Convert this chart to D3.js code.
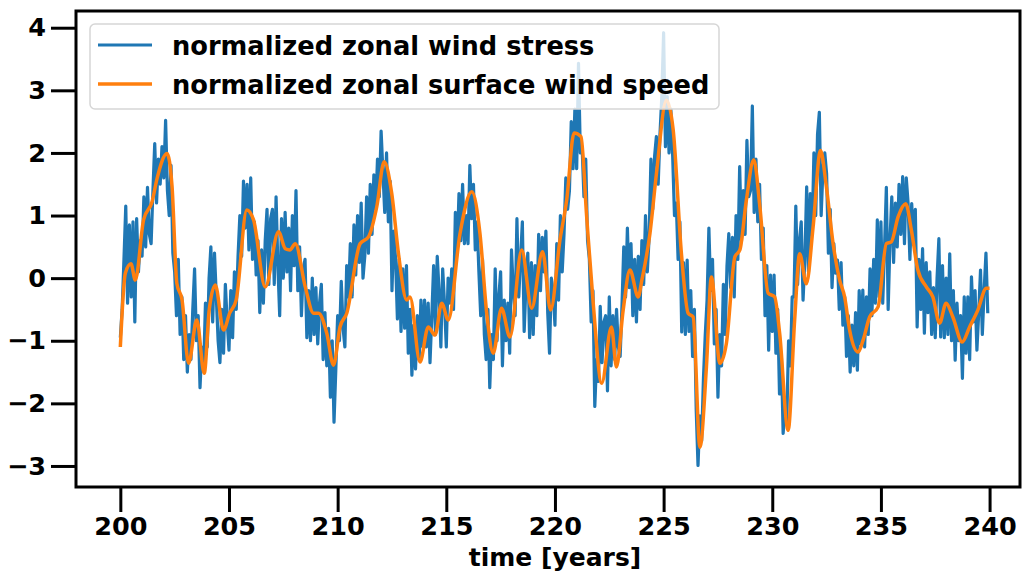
<!DOCTYPE html>
<html>
<head>
<meta charset="utf-8">
<script src="https://cdn.jsdelivr.net/npm/d3@7"></script>
<style>
  body { margin: 0; background: #fff; }
  svg { display: block; font-family: 'DejaVu Sans', sans-serif; }
</style>
</head>
<body>
<div id="chart"></div>
<script>
// monthly wind stress from year 200, one row per year
const stressStart = 200;
const stressPerYear = 12;
const windStress = [
  -0.95, -0.5, 0.3, 1.15, -0.4, 0.85, -0.3, 0.9, -0.7, 0.95, 0.1, 0.6,
  0.35, 1.3, 0.5, 1.45, 0.7, 0.55, 1.4, 2.15, 1.2, 1.9, 1.5, 2.1,
  1.6, 2.52, 1.4, 1.0, 1.8, 0.4, 0.1, -0.6, 0.3, -0.9, -0.3, -1.3,
  -0.6, -1.5, -0.9, -1.3, -0.5, 0.15, -1.0, -0.6, -1.75, -1.1, -1.45, -0.4,
  -1.1, 0.0, 0.5, -0.7, 0.4, -0.3, -1.0, -1.35, -0.5, -1.2, -0.1, -0.7,
  -1.15, -0.2, -0.95, 0.1, -0.5, 0.35, 1.0, 0.35, 1.55, 0.8, 1.5, 0.45,
  1.6, 0.3, 0.9, 0.05, 0.6, -0.55, 0.45, -0.4, 0.6, 1.1, -0.1, 0.95,
  1.1, -0.1, 1.3, 0.2, -0.6, 0.95, 0.0, 1.05, 0.1, 0.8, -0.2, 1.0,
  0.2, 1.4, -0.2, 0.5, -0.6, 0.15, 0.3, -0.95, -0.2, -1.0, 0.0, -0.9,
  -0.15, -1.05, -0.4, -0.1, -1.3, -0.55, -1.4, -0.8, -1.9, -1.0, -2.3, -1.45,
  -0.6, -1.0, -0.05, -0.8, -1.1, 0.2, -0.3, 0.55, -0.3, 0.85, 0.05, 1.0,
  0.25, 1.2, 0.0, 0.35, 1.3, 0.4, 1.5, 0.7, 1.65, 1.1, 1.9, 1.3,
  2.35, 1.7, 1.05, 2.0, 0.9, 1.55, -0.2, 0.75, 0.3, -0.65, 0.3, -0.85,
  0.15, -0.8, 0.2, -1.2, -0.5, -1.55, -0.75, -1.45, -0.6, -1.3, -0.35, -1.1,
  -0.35, -1.1, -0.4, -1.35, -0.6, 0.2, -0.9, 0.35, -0.2, -1.1, 0.15, -0.4,
  -1.1, 0.0, -0.4, 0.15, -0.5, 1.05, 0.4, 1.35, 0.6, 1.5, 0.55, 1.0,
  0.55, 1.8, 0.95, 1.5, 0.45, 0.9, 0.1, -0.6, 0.3, -0.9, -1.3, -0.5,
  -1.75, -0.9, -1.3, 0.15, -1.0, -0.3, 0.1, -1.4, -0.35, -1.0, -0.4, -1.2,
  0.45, -0.2, -0.6, 0.95, -0.3, 0.3, 0.9, -0.85, -0.1, 0.4, -0.95, 0.25,
  -0.9, 0.2, -0.6, 0.7, -0.2, 0.65, 0.1, 0.75, -0.55, -1.2, 0.0, -0.2,
  -0.75, 0.55, -0.35, 1.0, 0.1, 0.7, 1.6, 1.1, 1.4, 2.5, 1.75, 2.7,
  1.75, 3.43, 2.0, 2.1, 1.3, 1.9, 0.6, 0.3, -0.7, -0.2, -2.05, -1.3,
  -1.65, -0.45, -1.35, -0.7, -0.6, -1.8, -0.3, -1.4, -0.6, -1.3, -0.5, -1.1,
  -1.25, -0.45, 0.5, -0.3, 0.8, -0.15, 0.55, -0.6, 0.3, -0.7, 0.35, -0.5,
  0.6, -0.1, 1.0, 0.1, 0.65, 1.9, 1.1, 1.94, 2.26, 1.5, 2.3, 2.9,
  3.92, 2.1, 2.9, 2.0, 2.7, 1.95, 1.0, 1.2, 0.3, 0.9, -0.86, 0.25,
  -0.9, 0.29, -0.85, -0.2, -1.25, -0.5, -2.1, -2.99, -2.2, -2.6, -1.6, -0.9,
  -0.35, 0.8, -0.2, 0.3, -1.05, -0.5, -1.9, -0.9, -1.4, -0.1, -0.9, 0.2,
  0.71, -0.15, 0.65, -0.3, 1.0, 0.3, 1.78, 0.6, 1.4, 0.7, 2.2, 1.3,
  1.4, 2.75, 1.05, 1.9, 0.9, 1.5, 0.3, 0.8, -0.6, 0.2, -1.15, 0.05,
  -0.85, 0.05, -1.2, -0.5, -1.85, -1.2, -2.48, -2.1, -2.3, -1.0, -1.4, -0.3,
  -0.3, 1.15, -0.1, 0.6, 0.9, -0.35, 0.3, 1.46, 0.1, 1.35, 0.7, 2.0,
  1.0, 2.3, 2.65, 1.0, 1.75, 2.0, 1.67, 0.4, 1.1, -0.15, 0.55, 0.08,
  0.29, -0.5, 0.25, -0.75, -0.3, -1.25, -0.6, -1.5, -0.75, -1.4, -0.55, -1.47,
  -0.2, -1.05, -0.19, -1.1, -0.3, -0.9, 0.15, -0.6, 0.3, -0.4, 0.93, -0.3,
  0.9, -0.4, 0.5, 1.45, -0.5, 0.6, 1.3, 0.25, 1.2, 0.5, 1.5, 0.7,
  1.62, 0.55, 1.6, 1.2, 0.3, 1.19, 0.6, 1.1, -0.78, 0.3, -0.5, 0.47,
  -0.88, 0.25, -0.55, 0.1, -0.9, -0.15, -0.95, 0.0, 0.63, -0.94, 0.2, -0.95,
  0.0, -0.9, 0.39, -1.0, -0.2, -1.31, -0.4, -1.0, -0.6, -1.6, -0.3, -1.2,
  -0.3, -1.3, 0.02, -0.7, -0.2, -1.15, -0.55, 0.13, -0.9, -0.2, 0.4, -0.56,
];

const speedTime = [
  200.0, 200.23, 200.49, 200.69, 201.07, 201.46, 201.69, 202.15, 202.38, 202.6,
  202.84, 203.14, 203.52, 203.86, 204.09, 204.37, 204.75, 205.03, 205.33, 205.82,
  206.13, 206.67, 207.28, 207.59, 207.8, 208.05, 208.51, 208.89, 209.12, 209.5,
  209.81, 210.11, 210.42, 211.03, 211.42, 211.8, 212.14, 212.49, 212.8, 213.18,
  213.33, 213.79, 214.17, 214.48, 214.79, 215.09, 215.63, 216.17, 216.55, 216.86,
  217.16, 217.54, 217.93, 218.47, 218.93, 219.43, 219.8, 220.23, 220.54, 220.88,
  221.2, 221.46, 221.76, 222.15, 222.6, 222.83, 223.14, 223.45, 223.83, 224.0,
  224.37, 224.67, 225.13, 225.44, 225.82, 226.13, 226.36, 226.67, 226.97, 227.2,
  227.59, 227.89, 228.28, 228.51, 228.81, 229.15, 229.43, 229.81, 230.11, 230.34,
  230.73, 231.03, 231.26, 231.57, 231.88, 232.22, 232.49, 232.8, 233.1, 233.33,
  233.56, 233.95, 234.18, 234.48, 234.87, 235.25, 235.48, 235.79, 236.14, 236.4,
  236.7, 237.09, 237.39, 237.7, 238.0, 238.31, 238.74, 239.08, 239.46, 239.85,
  240.0,
];
const windSpeed = [
  -1.10, 0.08, 0.23, -0.03, 0.93, 1.22, 1.59, 1.99, 1.46, -0.08,
  -0.35, -1.36, -0.67, -1.52, -0.51, -0.11, -0.83, -0.56, -0.35, 1.09,
  0.93, -0.14, 0.74, 0.47, 0.45, 0.55, -0.14, -0.56, -0.56, -0.88,
  -1.39, -0.78, -0.56, 0.55, 0.66, 1.14, 1.86, 1.35, 0.39, -0.35,
  -0.30, -1.34, -0.78, -0.91, -0.40, -0.67, 0.71, 1.38, 0.71, -0.56,
  -1.20, -0.48, -0.94, 0.45, -0.48, 0.42, -0.51, 0.61, 1.25, 2.32,
  2.26, 0.98, -0.40, -1.68, -0.78, -1.42, -0.51, 0.13, -0.30, -0.03,
  0.71, 1.67, 2.84, 2.37, 0.39, -0.56, -0.62, -2.70, -1.42, 0.02,
  -1.36, -1.04, 0.34, 0.45, 1.25, 1.89, 1.14, -0.24, -0.30, -0.88,
  -2.43, -0.67, 0.39, -0.09, 0.82, 2.04, 1.46, 0.55, -0.03, -0.30,
  -0.83, -1.18, -0.99, -0.62, -0.46, 0.55, 0.58, 0.98, 1.19, 0.77,
  0.13, -0.14, -0.30, -0.72, -0.40, -0.62, -1.02, -0.78, -0.51, -0.16,
  -0.16,
];

const yTicks = [-3, -2, -1, 0, 1, 2, 3, 4];
const xTicks = [200, 205, 210, 215, 220, 225, 230, 235, 240];
const legendLabels = [
  'normalized zonal wind stress',
  'normalized zonal surface wind speed',
];

const width = 1024;
const height = 573;
const margin = {top: 11, right: 4, bottom: 86, left: 76};
const colors = ['#1f77b4', '#ff7f0e'];

function draw() {
  const svg = d3.select('#chart').append('svg')
      .attr('width', width)
      .attr('height', height);

  const x = d3.scaleLinear()
      .domain([197.96, 241.4])
      .range([margin.left, width - margin.right]);
  const y = d3.scaleLinear()
      .domain([-3.336, 4.267])
      .range([height - margin.bottom, margin.top]);

  svg.append('clipPath').attr('id', 'plot-area')
      .append('rect')
      .attr('x', margin.left).attr('y', margin.top)
      .attr('width', width - margin.left - margin.right)
      .attr('height', height - margin.top - margin.bottom);

  const stress = windStress.map((v, i) => [stressStart + i / stressPerYear, v]);
  const speed = speedTime.map((t, i) => [t, windSpeed[i]]);

  const line = d3.line()
      .x((d) => x(d[0]))
      .y((d) => y(d[1]));

  const plot = svg.append('g').attr('clip-path', 'url(#plot-area)');
  plot.append('path')
      .datum(stress)
      .attr('fill', 'none')
      .attr('stroke', colors[0])
      .attr('stroke-width', 3.2)
      .attr('stroke-linejoin', 'round')
      .attr('d', line);
  plot.append('path')
      .datum(speed)
      .attr('fill', 'none')
      .attr('stroke', colors[1])
      .attr('stroke-width', 3.5)
      .attr('stroke-linejoin', 'round')
      .attr('d', line.curve(d3.curveMonotoneX));

  // axes: long thick ticks, bold labels
  const styleAxis = (g) => {
    g.select('.domain').remove();
    g.selectAll('.tick line').attr('stroke', '#000').attr('stroke-width', 3);
    g.selectAll('.tick text')
        .attr('fill', '#000')
        .attr('font-size', 25.5)
        .attr('font-weight', 'bold')
        .attr('font-family', 'DejaVu Sans');
  };
  svg.append('g')
      .attr('transform', `translate(${margin.left},0)`)
      .call(d3.axisLeft(y).tickValues(yTicks).tickSize(25).tickPadding(5)
          .tickFormat(d3.format('d')))
      .call(styleAxis);
  svg.append('g')
      .attr('transform', `translate(0,${height - margin.bottom})`)
      .call(d3.axisBottom(x).tickValues(xTicks).tickSize(25).tickPadding(5)
          .tickFormat(d3.format('d')))
      .call(styleAxis);

  // the source axes run on past the right edge, so the label sits off centre
  svg.append('text')
      .attr('x', 555)
      .attr('y', 566)
      .attr('text-anchor', 'middle')
      .attr('font-size', 25)
      .attr('font-weight', 'bold')
      .text('time [years]');

  // spines on top of the lines
  svg.append('rect')
      .attr('x', margin.left).attr('y', margin.top)
      .attr('width', width - margin.left - margin.right)
      .attr('height', height - margin.top - margin.bottom)
      .attr('fill', 'none')
      .attr('stroke', '#000')
      .attr('stroke-width', 3);

  // legend, semi transparent frame like matplotlib
  const legend = svg.append('g');
  legend.append('rect')
      .attr('x', 90).attr('y', 24)
      .attr('width', 629).attr('height', 85)
      .attr('rx', 5)
      .attr('fill', '#fff').attr('fill-opacity', 0.8)
      .attr('stroke', '#d6d6d6').attr('stroke-width', 1.5);
  legendLabels.forEach((label, i) => {
    const cy = 45 + i * 39;
    legend.append('line')
        .attr('x1', 98).attr('x2', 152)
        .attr('y1', cy).attr('y2', cy)
        .attr('stroke', colors[i])
        .attr('stroke-width', i ? 3.5 : 3);
    legend.append('text')
        .attr('x', 172).attr('y', cy + 9.5)
        .attr('font-size', 25.7)
        .attr('font-weight', 'bold')
        .text(label);
  });
}

draw();
</script>
</body>
</html>
